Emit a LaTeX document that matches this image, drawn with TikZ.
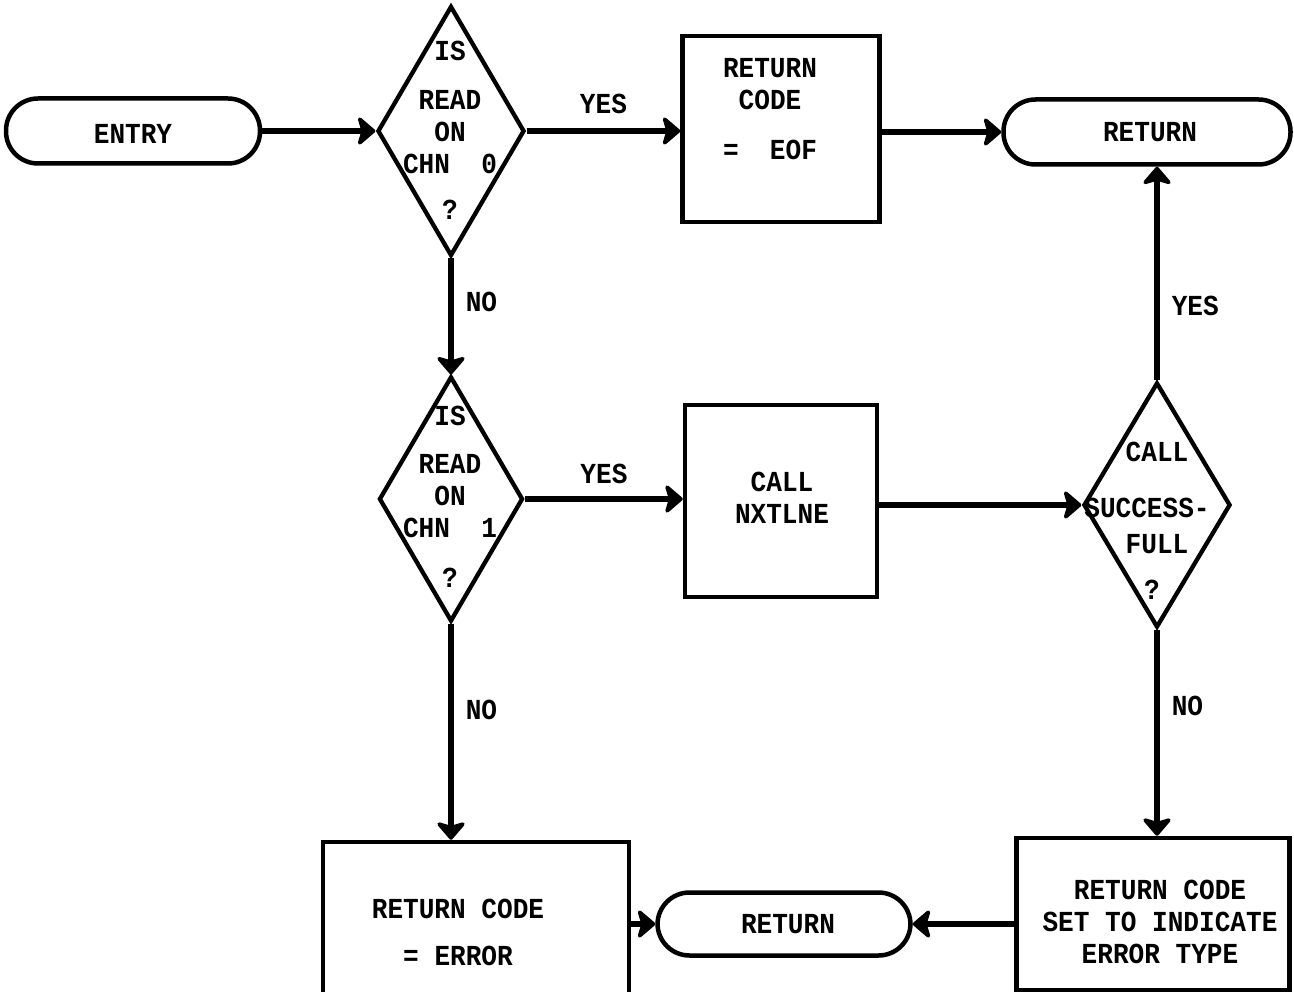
\documentclass[tikz,border=0pt]{standalone}
\usepackage{fontspec}
\setmonofont{Liberation Mono}[FakeStretch=0.9]
\usetikzlibrary{shapes.geometric,arrows.meta}
\begin{document}
\begin{tikzpicture}[x=1pt,y=-1pt,
  every node/.style={font=\ttfamily\bfseries\fontsize{29}{32}\selectfont},
  line/.style={line width=5.5pt},
  arr/.style={line, -{Stealth[length=20pt,width=34pt,inset=5pt,round]}},
  term/.style={draw, line width=4.5pt, rounded corners=32pt, inner sep=0pt},
  proc/.style={draw, line width=4.5pt, inner sep=0pt},
  dec/.style={draw, diamond, line width=4.3pt, inner sep=0pt},
  txt/.style={align=center, inner sep=0pt},
  lab/.style={inner sep=0pt}]
\useasboundingbox (0,0) rectangle (1294,992);
% terminals
\node[term, minimum width=254pt, minimum height=65pt] (entry) at (133,131) {};
\node[txt] (entryt) at (133,134) {ENTRY};
\node[term, minimum width=287pt, minimum height=65pt] (ret1) at (1147,132) {};
\node[txt] (ret1t) at (1150,132) {RETURN};
\node[term, minimum width=253pt, minimum height=63pt] (ret2) at (784,924) {};
\node[txt] (ret2t) at (788,924) {RETURN};
% process boxes
\node[proc, minimum width=197pt, minimum height=186pt] (eof) at (781,129) {};
\node[txt] (eoft) at (770,109) {RETURN\\CODE\\[18pt]=\ \ EOF};
\node[proc, minimum width=192pt, minimum height=192pt] (nxt) at (781,501) {};
\node[txt] (nxtt) at (782,498) {CALL\\NXTLNE};
\node[proc, minimum width=306pt, minimum height=152pt] (err) at (476,918) {};
\node[txt] (errt) at (458,932) {RETURN\ CODE\\[15pt]=\ ERROR};
\node[proc, minimum width=273pt, minimum height=152pt] (set) at (1153,914) {};
\node[txt] (sett) at (1160,922) {RETURN\ CODE\\SET TO INDICATE\\ERROR TYPE};
% decisions
\node[dec, minimum width=147pt, minimum height=250pt] (d1) at (451,131) {};
\node[txt] (d1t) at (450,130) {IS\\[17pt]READ\\ON\\CHN\ \ 0\\[14pt]?};
\node[dec, minimum width=144pt, minimum height=245pt] (d2) at (451,499) {};
\node[txt] (d2t) at (450,497) {IS\\[16pt]READ\\ON\\CHN\ \ 1\\[18pt]?};
\node[dec, minimum width=147pt, minimum height=245pt] (d3) at (1157,505) {};
\node[txt] (d3t) at (1147,521) {\hspace*{20pt}CALL\\[24pt]SUCCESS-\\[4pt]\hspace*{20pt}FULL\\[14pt]\hspace*{10pt}?};
% connectors
\draw[arr] (entry.east) -- (d1.west);
\draw[arr] (d1.east) -- node[lab, above=14pt] (y1) {YES} (eof.west |- d1.east);
\draw[arr] (eof.east |- ret1.west) -- (ret1.west);
\draw[arr] (d1.south) -- node[lab, right=12pt, pos=0.38] (n1) {NO} (d2.north);
\draw[arr] (d2.east) -- node[lab, above=12pt] (y2) {YES} (nxt.west |- d2.east);
\draw[arr] (nxt.east |- d3.west) -- (d3.west);
\draw[arr] (d3.north) -- node[lab, right=12pt, pos=0.35] (y3) {YES} (ret1.south -| d3.north);
\draw[arr] (d3.south) -- node[lab, right=12pt, pos=0.37] (n3) {NO} (set.north -| d3.south);
\draw[arr] (d2.south) -- node[lab, right=12pt, pos=0.4] (n2) {NO} (err.north -| d2.south);
\draw[arr] (err.east |- ret2.west) -- (ret2.west);
\draw[arr] (set.west |- ret2.east) -- (ret2.east);
\end{tikzpicture}
\end{document}
